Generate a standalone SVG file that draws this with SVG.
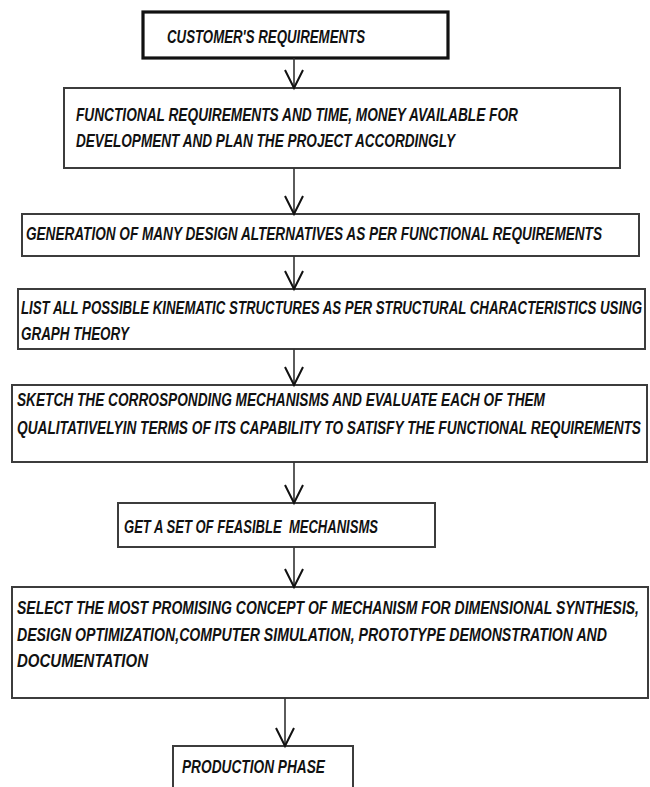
<svg xmlns="http://www.w3.org/2000/svg" width="650" height="787" viewBox="0 0 650 787">
<defs>
<style>
.box{fill:#fff;stroke:#3c3c3c;stroke-width:2}
.box1{fill:#fff;stroke:#111;stroke-width:3.2}
.t{font-family:"Liberation Sans",Arial,sans-serif;font-size:18.5px;font-weight:bold;font-style:italic;fill:#111}
.ln{stroke:#333;stroke-width:1.6;fill:none}
.hd{stroke:#111;stroke-width:2;fill:none;stroke-linejoin:miter}
</style>
</defs>
<rect width="650" height="787" fill="#fff"/>
<g id="n1">
<rect class="box1" x="143" y="12" width="305" height="46"/>
<text class="t" transform="scale(0.68 1)" x="245.59" y="43" textLength="291.18" lengthAdjust="spacingAndGlyphs">CUSTOMER'S REQUIREMENTS</text>
</g>
<g id="n2">
<rect class="box" x="64" y="88" width="556" height="80"/>
<text class="t" transform="scale(0.68 1)" x="111.76" y="121" textLength="650" lengthAdjust="spacingAndGlyphs">FUNCTIONAL REQUIREMENTS AND TIME, MONEY AVAILABLE FOR</text>
<text class="t" transform="scale(0.68 1)" x="111.76" y="147" textLength="557.35" lengthAdjust="spacingAndGlyphs">DEVELOPMENT AND PLAN THE PROJECT ACCORDINGLY</text>
</g>
<g id="n3">
<rect class="box" x="22" y="214" width="617" height="42"/>
<text class="t" transform="scale(0.68 1)" x="38.24" y="240" textLength="847.06" lengthAdjust="spacingAndGlyphs">GENERATION OF MANY DESIGN ALTERNATIVES AS PER FUNCTIONAL REQUIREMENTS</text>
</g>
<g id="n4">
<rect class="box" x="18" y="289" width="627" height="60"/>
<text class="t" transform="scale(0.68 1)" x="30.88" y="314" textLength="913.24" lengthAdjust="spacingAndGlyphs">LIST ALL POSSIBLE KINEMATIC STRUCTURES AS PER STRUCTURAL CHARACTERISTICS USING</text>
<text class="t" transform="scale(0.68 1)" x="30.88" y="340" textLength="158.82" lengthAdjust="spacingAndGlyphs">GRAPH THEORY</text>
</g>
<g id="n5">
<rect class="box" x="12" y="385" width="635" height="77"/>
<text class="t" transform="scale(0.68 1)" x="25" y="406" textLength="776.47" lengthAdjust="spacingAndGlyphs">SKETCH THE CORROSPONDING MECHANISMS AND EVALUATE EACH OF THEM</text>
<text class="t" transform="scale(0.68 1)" x="25" y="434" textLength="917.65" lengthAdjust="spacingAndGlyphs">QUALITATIVELYIN TERMS OF ITS CAPABILITY TO SATISFY THE FUNCTIONAL REQUIREMENTS</text>
</g>
<g id="n6">
<rect class="box" x="118" y="503" width="317" height="44"/>
<text class="t" transform="scale(0.68 1)" x="182.35" y="533" textLength="373.53" lengthAdjust="spacingAndGlyphs" xml:space="preserve">GET A SET OF FEASIBLE  MECHANISMS</text>
</g>
<g id="n7">
<rect class="box" x="12" y="587" width="636" height="111"/>
<text class="t" transform="scale(0.68 1)" x="25" y="614" textLength="914.71" lengthAdjust="spacingAndGlyphs">SELECT THE MOST PROMISING CONCEPT OF MECHANISM FOR DIMENSIONAL SYNTHESIS,</text>
<text class="t" transform="scale(0.68 1)" x="25" y="641" textLength="867.65" lengthAdjust="spacingAndGlyphs">DESIGN OPTIMIZATION,COMPUTER SIMULATION, PROTOTYPE DEMONSTRATION AND</text>
<text class="t" transform="scale(0.68 1)" x="25" y="667" textLength="192.65" lengthAdjust="spacingAndGlyphs">DOCUMENTATION</text>
</g>
<g id="n8">
<rect class="box" x="173" y="746" width="180" height="60"/>
<text class="t" transform="scale(0.68 1)" x="267.65" y="773" textLength="210.29" lengthAdjust="spacingAndGlyphs">PRODUCTION PHASE</text>
</g>
<g id="connectors">
<path class="ln" d="M294 58V88"/><path class="hd" d="M285 70L294 88L303 70"/>
<path class="ln" d="M294 168V214"/><path class="hd" d="M285 196L294 214L303 196"/>
<path class="ln" d="M294 256V289"/><path class="hd" d="M285 271L294 289L303 271"/>
<path class="ln" d="M294 349V385"/><path class="hd" d="M285 367L294 385L303 367"/>
<path class="ln" d="M294 462V503"/><path class="hd" d="M285 485L294 503L303 485"/>
<path class="ln" d="M294 547V587"/><path class="hd" d="M285 569L294 587L303 569"/>
<path class="ln" d="M285 698V746"/><path class="hd" d="M276 728L285 746L294 728"/>
</g>
</svg>
